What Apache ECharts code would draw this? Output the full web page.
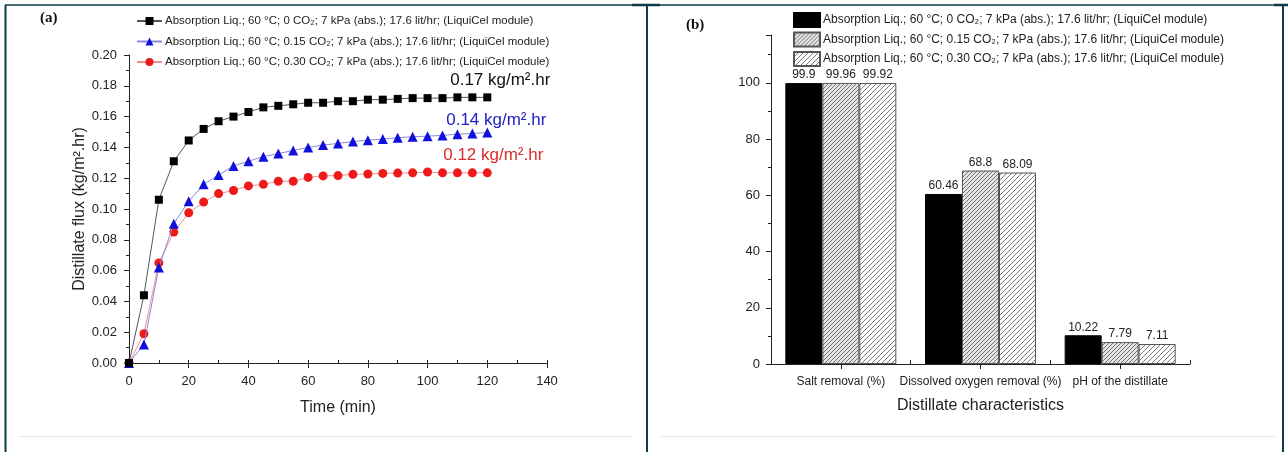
<!DOCTYPE html>
<html><head><meta charset="utf-8">
<script src="https://cdn.jsdelivr.net/npm/echarts/dist/echarts.min.js"></script>
<style>html,body{margin:0;padding:0;background:#fff}#c{width:1288px;height:452px}</style>
</head><body><div id="c"></div>
<script>
// ---------- data: panel (a) ----------
const timeMin = [0,5,10,15,20,25,30,35,40,45,50,55,60,65,70,75,80,85,90,95,100,105,110,115,120];
const flux0CO2 = [0,0.044,0.106,0.131,0.1445,0.152,0.157,0.160,0.163,0.166,0.167,0.168,0.169,0.169,0.170,0.170,0.171,0.171,0.1715,0.172,0.172,0.172,0.1725,0.1725,0.1725];
const flux015CO2 = [0,0.012,0.062,0.0905,0.105,0.116,0.122,0.128,0.131,0.134,0.136,0.138,0.140,0.1415,0.1426,0.1438,0.1447,0.1454,0.1463,0.1469,0.1473,0.1478,0.1486,0.149,0.1497];
const flux030CO2 = [0,0.019,0.065,0.085,0.0975,0.1045,0.110,0.112,0.115,0.116,0.118,0.118,0.1205,0.1215,0.1217,0.1225,0.1227,0.1231,0.1233,0.1235,0.124,0.1235,0.1235,0.1235,0.1235];
const finalFluxLabels = ['0.17 kg/m².hr','0.14 kg/m².hr','0.12 kg/m².hr'];
const seriesNames = [
  'Absorption Liq.; 60 °C; 0 CO₂; 7 kPa (abs.); 17.6 lit/hr; (LiquiCel module)',
  'Absorption Liq.; 60 °C; 0.15 CO₂; 7 kPa (abs.); 17.6 lit/hr; (LiquiCel module)',
  'Absorption Liq.; 60 °C; 0.30 CO₂; 7 kPa (abs.); 17.6 lit/hr; (LiquiCel module)'
];
// ---------- data: panel (b) ----------
const characteristics = ['Salt removal (%)','Dissolved oxygen removal (%)','pH of the distillate'];
const bar0CO2 = [99.9, 60.46, 10.22];
const bar015CO2 = [99.96, 68.8, 7.79];
const bar030CO2 = [99.92, 68.09, 7.11];

const FONT = 'Liberation Sans, Arial, Helvetica, sans-serif';

function hatch(bg, step, lw, col){
  const c = document.createElement('canvas'); c.width = step; c.height = step;
  const g = c.getContext('2d'); g.fillStyle = bg; g.fillRect(0,0,step,step);
  g.strokeStyle = col; g.lineWidth = lw; g.beginPath();
  g.moveTo(0,step); g.lineTo(step,0);
  g.moveTo(-step,step); g.lineTo(step,-step);
  g.moveTo(0,2*step); g.lineTo(2*step,0);
  g.stroke(); return c;
}
const pat1 = {image: hatch('#e4e4e4',4,0.9,'#666666'), repeat:'repeat'};
const pat2 = {image: hatch('#ffffff',5,0.9,'#6a6a6a'), repeat:'repeat'};

function lineData(ys, idx, offset, color){
  return timeMin.map((t,i)=>{
    if (i === timeMin.length-1) {
      return {value:[t, ys[i]], label:{show:true, position:'inside', offset:offset,
        formatter: finalFluxLabels[idx], color: color, fontSize: 17, fontFamily: FONT}};
    }
    return [t, ys[i]];
  });
}

const lineStyles = [
  {marker:'#000000', line:'#555555', symbol:'rect', size:8, off:[13,-17], txt:'#111111'},
  {marker:'#1010dd', line:'#8a8ad8', symbol:'triangle', size:10, off:[9,-12], txt:'#2020c8'},
  {marker:'#ee1a1a', line:'#ee9090', symbol:'circle', size:9, off:[6,-17], txt:'#dd2a2a'}
];
const fluxSets = [flux0CO2, flux015CO2, flux030CO2];
const barSets = [bar0CO2, bar015CO2, bar030CO2];
const barColors = ['#000000', pat1, pat2];
const barBorders = ['#000000', '#555555', '#555555'];
const barNames = seriesNames.map(n => n + '\u200b');

const axisCommon = {
  axisLine:{show:true, lineStyle:{color:'#222', width:1}},
  splitLine:{show:false},
};

const option = {
  animation:false,
  backgroundColor:'#fff',
  textStyle:{fontFamily:FONT},
  grid:[
    {left:129, top:55, width:418, height:308, outerBoundsMode:'none', containLabel:false},
    {left:771, top:35, width:419, height:329, outerBoundsMode:'none', containLabel:false}
  ],
  legend:[
    {data:seriesNames, orient:'vertical', left:136, top:15, padding:0, itemWidth:25, itemHeight:10, itemGap:8.5,
     textStyle:{fontSize:11.5, color:'#222', fontFamily:FONT, padding:[0,0,0,-2]}, selectedMode:false},
    {data:barNames, orient:'vertical', left:793, top:12, padding:0, itemWidth:26, itemHeight:14, itemGap:3.5,
     icon:'rect', textStyle:{fontSize:12, color:'#222', fontFamily:FONT, padding:[0,0,0,-2]}, selectedMode:false}
  ],
  xAxis:[
    Object.assign({gridIndex:0, type:'value', position:'bottom', min:0, max:140, interval:20,
      axisTick:{show:true, inside:false, length:5, lineStyle:{color:'#222'}},
      axisLabel:{fontSize:13, color:'#222', margin:12, fontFamily:FONT},
      name:'Time (min)', nameLocation:'middle', nameGap:37,
      nameTextStyle:{fontSize:16, color:'#222', fontFamily:FONT}}, axisCommon),
    {gridIndex:0, type:'value', position:'bottom', min:0, max:140, interval:10, axisLine:{show:false},
      axisTick:{show:true, inside:true, length:3, lineStyle:{color:'#222'}},
      axisLabel:{show:false}, splitLine:{show:false}},
    Object.assign({gridIndex:1, type:'category', position:'bottom', data:characteristics,
      axisTick:{show:true, alignWithLabel:true, inside:false, length:5, lineStyle:{color:'#222'}},
      axisLabel:{fontSize:12, color:'#222', margin:12, fontFamily:FONT, interval:0},
      name:'Distillate characteristics', nameLocation:'middle', nameGap:34,
      nameTextStyle:{fontSize:16, color:'#222', fontFamily:FONT}}, axisCommon),
    {gridIndex:1, type:'value', position:'bottom', min:0, max:3, interval:1, axisLine:{show:false},
      axisTick:{show:true, inside:true, length:4, lineStyle:{color:'#222'}},
      axisLabel:{show:false}, splitLine:{show:false}}
  ],
  yAxis:[
    Object.assign({gridIndex:0, type:'value', position:'left', min:0, max:0.2, interval:0.02,
      axisTick:{show:true, inside:false, length:5, lineStyle:{color:'#222'}},
      minorTick:{show:true, splitNumber:2, length:3, lineStyle:{color:'#222'}},
      axisLabel:{fontSize:13, color:'#222', margin:12, fontFamily:FONT, formatter:v=>v.toFixed(2)},
      name:'Distillate flux (kg/m².hr)', nameLocation:'middle', nameGap:41,
      nameTextStyle:{fontSize:16, color:'#222', fontFamily:FONT}}, axisCommon),
    Object.assign({gridIndex:1, type:'value', position:'left', min:0, max:117, interval:20,
      axisTick:{show:true, inside:false, length:5, lineStyle:{color:'#222'}},
      axisLabel:{fontSize:13, color:'#222', margin:11, fontFamily:FONT,
        formatter:v=> (v % 20 === 0 ? String(v) : '')}}, axisCommon),
    {gridIndex:1, type:'value', position:'left', min:0, max:117, interval:10, axisLine:{show:false},
      axisTick:{show:true, inside:false, length:3, lineStyle:{color:'#222'}},
      axisLabel:{show:false}, splitLine:{show:false}}
  ],
  series: [
    ...fluxSets.map((ys,k)=>({
      type:'line', name:seriesNames[k], xAxisIndex:0, yAxisIndex:0,
      data: lineData(ys, k, lineStyles[k].off, lineStyles[k].txt),
      symbol:lineStyles[k].symbol, symbolSize:lineStyles[k].size, showAllSymbol:true,
      lineStyle:{color:lineStyles[k].line, width:1},
      itemStyle:{color:lineStyles[k].marker},
      emphasis:{disabled:true}, z: 3-k
    })),
    ...barSets.map((vals,k)=>({
      type:'bar', name:barNames[k], xAxisIndex:2, yAxisIndex:1,
      data: vals, barWidth:37, barGap:'0%',
      itemStyle:{color:barColors[k], borderColor:barBorders[k], borderWidth:1},
      label:{show:true, position:'top', distance:2, fontSize:12, color:'#222', fontFamily:FONT},
      emphasis:{disabled:true}
    }))
  ],
  graphic:[
    {type:'line', shape:{x1:5,y1:5,x2:1283,y2:5}, style:{stroke:'#0d3a48', lineWidth:1.5}, silent:true},
    {type:'line', shape:{x1:632,y1:5,x2:660,y2:5}, style:{stroke:'#0d3a48', lineWidth:2.5}, silent:true},
    {type:'line', shape:{x1:1274,y1:5,x2:1288,y2:5}, style:{stroke:'#0d3a48', lineWidth:2.5}, silent:true},
    {type:'line', shape:{x1:5.5,y1:5,x2:5.5,y2:452}, style:{stroke:'#0d3a48', lineWidth:2}, silent:true},
    {type:'line', shape:{x1:647,y1:5,x2:647,y2:452}, style:{stroke:'#0d3a48', lineWidth:2}, silent:true},
    {type:'line', shape:{x1:1283,y1:5,x2:1283,y2:452}, style:{stroke:'#0d3a48', lineWidth:2}, silent:true},
    {type:'line', shape:{x1:19,y1:436.5,x2:632,y2:436.5}, style:{stroke:'#e2e2e2', lineWidth:1}, silent:true},
    {type:'line', shape:{x1:661,y1:436.5,x2:1275,y2:436.5}, style:{stroke:'#e2e2e2', lineWidth:1}, silent:true},
    {type:'text', left:40, top:11, style:{text:'(a)', font:'bold 15px "Liberation Serif", "Times New Roman", serif', fill:'#111'}, silent:true},
    {type:'text', left:686, top:18, style:{text:'(b)', font:'bold 15px "Liberation Serif", "Times New Roman", serif', fill:'#111'}, silent:true}
  ]
};
const chart = echarts.init(document.getElementById('c'), null, {renderer:'canvas'});
chart.setOption(option);
</script>
</body></html>
